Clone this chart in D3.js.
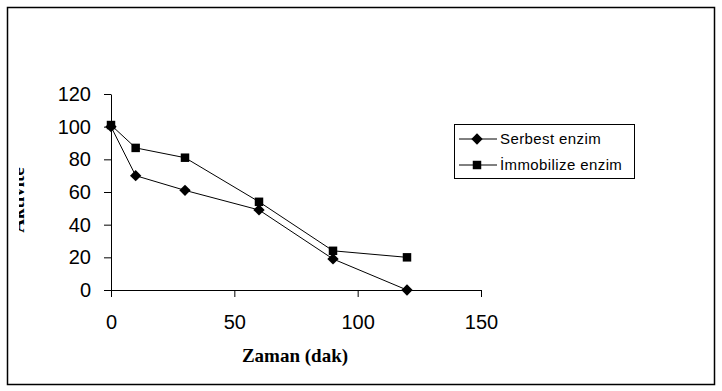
<!DOCTYPE html>
<html>
<head>
<meta charset="utf-8">
<script src="https://cdn.jsdelivr.net/npm/d3@7"></script>
<style>
	body { margin:0; background:#fff; }
	svg { display:block; }
	.tick text { font-family: "Liberation Sans", Arial, sans-serif; }
</style>
</head>
<body>
<svg id="chart" width="722" height="391"></svg>
<script>
var times = [0, 10, 30, 60, 90, 120];
var serbest = [100, 70, 61, 49, 19, 0];
var immobilize = [101, 87, 81, 54, 24, 20];
var seriesNames = ['Serbest enzim', 'İmmobilize enzim'];
var xTicks = [0, 50, 100, 150];
var yTicks = [0, 20, 40, 60, 80, 100, 120];

var svg = d3.select('#chart');

// outer frame
svg.append('rect')
	.attr('x', 7.5).attr('y', 7.5)
	.attr('width', 707).attr('height', 377)
	.attr('fill', '#fff')
	.attr('stroke', '#000')
	.attr('stroke-width', 1.5);

var x = d3.scaleLinear().domain([0, 150]).range([111, 481]);
var y = d3.scaleLinear().domain([0, 120]).range([290, 94]);

var xAxis = svg.append('g')
	.attr('transform', 'translate(0,290)')
	.call(d3.axisBottom(x).tickValues(xTicks).tickSize(7).tickPadding(13).tickSizeOuter(0));

var yAxis = svg.append('g')
	.attr('transform', 'translate(111,0)')
	.call(d3.axisLeft(y).tickValues(yTicks).tickSize(7).tickPadding(13).tickSizeOuter(0));

[xAxis, yAxis].forEach(function(a){
	a.select('.domain').attr('stroke', '#000');
	a.selectAll('.tick line').attr('stroke', '#000');
	a.selectAll('.tick text')
		.attr('fill', '#000')
		.style('font-size', '20px');
});
xAxis.selectAll('.tick text').attr('dy', '0.95em');

// axis titles
svg.append('text')
	.attr('x', 295).attr('y', 362)
	.attr('text-anchor', 'middle')
	.style('font-family', '"Liberation Serif", "Times New Roman", serif')
	.style('font-weight', 'bold')
	.style('font-size', '19px')
	.text('Zaman (dak)');

// y title is cut off in the original, only a sliver shows
svg.append('clipPath').attr('id', 'ylabClip')
	.append('rect').attr('x', 19).attr('y', 120).attr('width', 20).attr('height', 150);

svg.append('g')
	.attr('clip-path', 'url(#ylabClip)')
	.append('text')
	.attr('transform', 'translate(23.5,200) rotate(-90)')
	.attr('text-anchor', 'middle')
	.style('font-family', '"Liberation Serif", "Times New Roman", serif')
	.style('font-weight', 'bold')
	.style('font-size', '19px')
	.text('Aktivite');

// excel style diamond: rotated square
var diamond = {
	draw: function(ctx, size){
		var r = Math.sqrt(size / 2);
		ctx.moveTo(0, -r);
		ctx.lineTo(r, 0);
		ctx.lineTo(0, r);
		ctx.lineTo(-r, 0);
		ctx.closePath();
	}
};

var line = d3.line()
	.x(function(d, i){ return x(times[i]); })
	.y(function(d){ return y(d); });

var series = [serbest, immobilize];
var symbols = [diamond, d3.symbolSquare];
var symbolSizes = [64, 72];

series.forEach(function(vals, s){
	svg.append('path')
		.datum(vals)
		.attr('d', line)
		.attr('fill', 'none')
		.attr('stroke', '#000')
		.attr('stroke-width', 1);

	svg.selectAll('.pt' + s)
		.data(vals)
		.enter()
		.append('path')
		.attr('class', 'pt' + s)
		.attr('d', d3.symbol().type(symbols[s]).size(symbolSizes[s]))
		.attr('transform', function(d, i){ return 'translate(' + x(times[i]) + ',' + y(d) + ')'; })
		.attr('fill', '#000');
});

// legend
var legend = svg.append('g');
legend.append('rect')
	.attr('x', 454.5).attr('y', 124.5)
	.attr('width', 180).attr('height', 54)
	.attr('fill', '#fff')
	.attr('stroke', '#000')
	.attr('stroke-width', 1);

var item = legend.selectAll('.item')
	.data(seriesNames)
	.enter()
	.append('g')
	.attr('transform', function(d, i){ return 'translate(0,' + (139 + i * 26) + ')'; });

item.append('line')
	.attr('x1', 459).attr('x2', 497)
	.attr('stroke', '#000');

item.append('path')
	.attr('d', function(d, i){ return d3.symbol().type(symbols[i]).size(symbolSizes[i])(); })
	.attr('transform', 'translate(477,0)');

item.append('text')
	.attr('x', 500).attr('y', 5)
	.style('font-family', '"Liberation Sans", Arial, sans-serif')
	.style('font-size', '15px')
	.style('letter-spacing', '0.4px')
	.text(function(d){ return d; });
</script>
</body>
</html>
